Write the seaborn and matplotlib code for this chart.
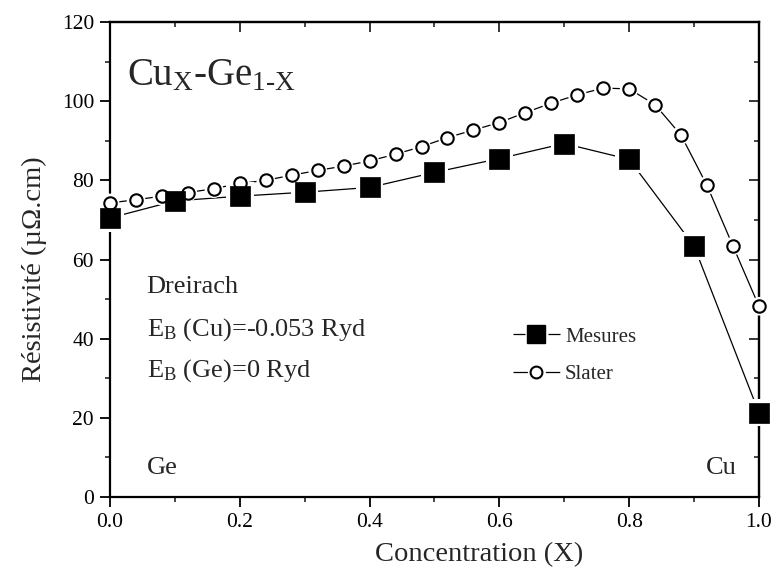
import matplotlib
matplotlib.use("Agg")
import matplotlib.pyplot as plt
from matplotlib.lines import Line2D
from matplotlib.ticker import MultipleLocator
import seaborn as sns
import pandas as pd

# ---- data ----
mes_x = [0.0, 0.1, 0.2, 0.3, 0.4, 0.5, 0.6, 0.7, 0.8, 0.9, 1.0]
mes_y = [70.5, 74.8, 76.0, 77.0, 78.2, 82.0, 85.5, 89.3, 85.3, 63.4, 21.3]

sla_x = [0.00, 0.04, 0.08, 0.12, 0.16, 0.20, 0.24, 0.28, 0.32, 0.36, 0.40, 0.44, 0.48,
         0.52, 0.56, 0.60, 0.64, 0.68, 0.72, 0.76, 0.80, 0.84, 0.88, 0.92, 0.96, 1.00]
sla_y = [74.3, 75.1, 76.0, 76.9, 77.9, 79.2, 80.0, 81.3, 82.5, 83.6, 84.9, 86.6, 88.5,
         90.8, 92.7, 94.6, 97.1, 99.5, 101.6, 103.3, 103.1, 99.1, 91.4, 78.7, 63.4, 48.2]

x_ticks = [0.0, 0.2, 0.4, 0.6, 0.8, 1.0]
y_ticks = [0, 20, 40, 60, 80, 100, 120]

sns.set_theme(style="ticks")
plt.rcParams["font.family"] = ["Liberation Serif", "DejaVu Serif"]
plt.rcParams["mathtext.fontset"] = "custom"
plt.rcParams["mathtext.rm"] = "Liberation Serif"
plt.rcParams["mathtext.it"] = "Liberation Serif:italic"

fig = plt.figure(figsize=(7.76, 5.77), dpi=100)
ax = fig.add_axes([0.1418, 0.1386, 0.978 - 0.1418, 0.9619 - 0.1386])

dm = pd.DataFrame({"x": mes_x, "y": mes_y})
ds = pd.DataFrame({"x": sla_x, "y": sla_y})

# lines
sns.lineplot(data=ds, x="x", y="y", ax=ax, color="black", lw=0.9, sort=False,
             estimator=None, zorder=2)
sns.lineplot(data=dm, x="x", y="y", ax=ax, color="black", lw=0.9, sort=False,
             estimator=None, zorder=2)
# white halos for the gaps between lines and markers
sns.scatterplot(data=ds, x="x", y="y", ax=ax, marker="o", s=180, color="white",
                edgecolor="none", zorder=3, clip_on=False)
sns.scatterplot(data=dm, x="x", y="y", ax=ax, marker="s", s=390, color="white",
                edgecolor="none", zorder=3, clip_on=False)
# markers
sns.scatterplot(data=ds, x="x", y="y", ax=ax, marker="o", s=80, color="white",
                edgecolor="black", linewidth=1.5, zorder=4, clip_on=False)
sns.scatterplot(data=dm, x="x", y="y", ax=ax, marker="s", s=225, color="black",
                edgecolor="black", linewidth=0.5, zorder=5, clip_on=False)

ax.set_xlim(0, 1.0)
ax.set_ylim(0, 120)
ax.set_xticks(x_ticks)
ax.set_xticklabels([f"{v:.1f}" for v in x_ticks])
ax.set_yticks(y_ticks)
ax.set_yticklabels([str(v) for v in y_ticks])
ax.xaxis.set_minor_locator(MultipleLocator(0.1))
ax.yaxis.set_minor_locator(MultipleLocator(10))
ax.tick_params(which="major", direction="out", length=7.5, width=1.3, labelsize=15.5,
               colors="black", pad=4)
ax.tick_params(which="minor", direction="out", length=3.7, width=1.2)
for sp in ax.spines.values():
    sp.set_visible(True)
    sp.set_linewidth(1.6)
    sp.set_color("black")

# mirrored inward ticks on top/right
secx = ax.secondary_xaxis("top")
secx.set_xticks(x_ticks)
secx.xaxis.set_minor_locator(MultipleLocator(0.1))
secx.tick_params(which="major", direction="in", length=7, width=1.3, labeltop=False)
secx.tick_params(which="minor", direction="in", length=3.7, width=1.2)
secx.spines["top"].set_linewidth(1.6)
secy = ax.secondary_yaxis("right")
secy.set_yticks(y_ticks)
secy.yaxis.set_minor_locator(MultipleLocator(10))
secy.tick_params(which="major", direction="in", length=7, width=1.3, labelright=False)
secy.tick_params(which="minor", direction="in", length=3.7, width=1.2)
secy.spines["right"].set_linewidth(1.6)

ax.set_xlabel("Concentration (X)", fontsize=20.5)
ax.set_ylabel("Résistivité (µΩ.cm)", fontsize=20.5)
ax.xaxis.set_label_coords(0.5686, -0.095)
ax.yaxis.set_label_coords(-0.097, 0.48)

ax.text(0.026, 0.886, r"Cu$_\mathregular{X}$-Ge$_\mathregular{1\text{-}X}$",
        transform=ax.transAxes, fontsize=28, va="center", ha="left")
ax.text(0.0565, 0.443, "Dreirach", transform=ax.transAxes, fontsize=19, va="center")
ax.text(0.0565, 0.352, r"E$_\mathregular{B}$ (Cu)=-0.053 Ryd", transform=ax.transAxes,
        fontsize=19, va="center")
ax.text(0.0565, 0.267, r"E$_\mathregular{B}$ (Ge)=0 Ryd", transform=ax.transAxes,
        fontsize=19, va="center")
ax.text(0.0565, 0.062, "Ge", transform=ax.transAxes, fontsize=19, va="center")
ax.text(0.966, 0.062, "Cu", transform=ax.transAxes, fontsize=19, va="center", ha="right")

handles = [
    Line2D([0], [0], color="black", lw=0.9, marker="s", markersize=13,
           markerfacecolor="black", markeredgecolor="black",
           linestyle=(0, (9.6, 18.4))),
    Line2D([0], [0], color="black", lw=0.9, marker="o", markersize=8.5,
           markerfacecolor="white", markeredgecolor="black", markeredgewidth=1.5,
           linestyle=(0, (11.5, 14.4))),
]
ax.legend(handles, ["Mesures", "Slater"], loc="center left",
          bbox_to_anchor=(0.592, 0.298), frameon=False, fontsize=15,
          handlelength=2.25, handletextpad=0.25, labelspacing=0.84)

fig.savefig("out.png", dpi=100)
